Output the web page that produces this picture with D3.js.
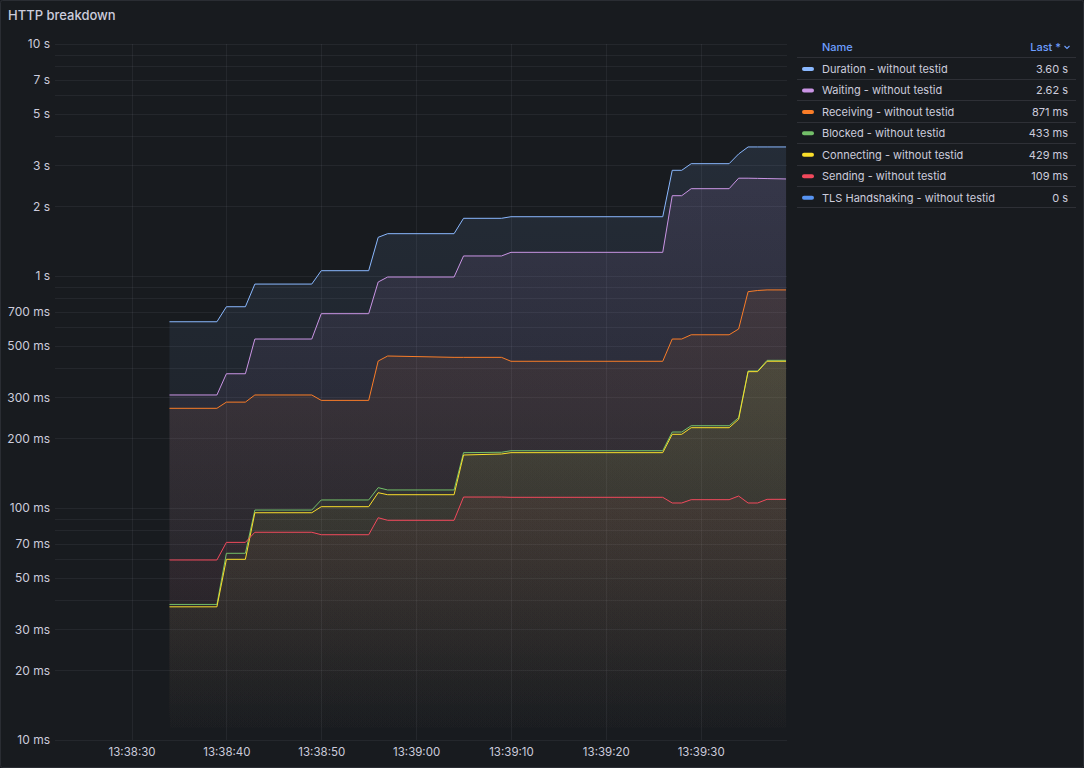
<!DOCTYPE html>
<html><head><meta charset="utf-8">
<script src="https://cdn.jsdelivr.net/npm/d3@7"></script>
<style>
html,body{margin:0;padding:0;background:#181b1f;}
svg{display:block;font-family:Inter,"Noto Sans",sans-serif;}
</style></head><body>
<svg id="c" width="1084" height="768"></svg>
<script>
// ---- data ----
const title = "HTTP breakdown";
// sample times, seconds after 13:38:30
const seconds = [4,9,10,12,13,19,20,25,26,27,34,35,39,40,56,57,58,59,63,64,65,66,67,69];
// values in milliseconds
const duration   = [635,635,737,737,923,923,1054,1054,1468,1522,1522,1773,1773,1801,1801,2855,2855,3049,3049,3357,3600,3600,3600,3600];
const waiting    = [307,307,379,379,535,535,688,688,942,990,990,1220,1220,1265,1265,2219,2219,2379,2379,2640,2640,2635,2630,2620];
const receiving  = [269,269,286,286,307,307,291,291,430,452,446,446,446,429,429,535,535,558,558,591,856,866,871,871];
const blocked    = [38.4,38.4,63.8,63.8,98.0,98.0,108.3,108.3,122.4,119.6,119.6,173.2,173.9,176.6,176.6,212.6,212.6,226.3,226.3,245.1,389.6,389.6,433,433];
const connecting = [37.5,37.5,60.1,60.1,95.4,95.4,101.3,101.3,116.4,114.1,114.1,169.2,170.9,173.2,173.2,207.8,207.8,221.9,221.9,241.2,387,387,429,429];
const sending    = [59.7,59.7,71.1,71.1,78.6,78.6,76.7,76.7,90.8,88.5,88.5,111.5,111.5,111.2,111.2,105.1,105.1,108.6,108.6,112.6,105.1,105.1,109,109];
const tlsHandshaking = [0,0,0,0,0,0,0,0,0,0,0,0,0,0,0,0,0,0,0,0,0,0,0,0];

const seriesNames = ["Duration - without testid","Waiting - without testid","Receiving - without testid",
  "Blocked - without testid","Connecting - without testid","Sending - without testid","TLS Handshaking - without testid"];
const seriesValues = [duration, waiting, receiving, blocked, connecting, sending, tlsHandshaking];
const seriesColors = ["#8ab8ff","#ca95e5","#fa7d28","#73bf69","#fade2a","#f2495c","#5794f2"];

const xTickSeconds = [0,10,20,30,40,50,60];
const yTickValues = [10,20,30,50,70,100,200,300,500,700,1000,2000,3000,5000,7000,10000];
const legendHeader = ["Name","Last *"];

// ---- layout ----
const W = 1084, H = 768;
const plot = {left:55, right:787, top:44, bottom:740};
const base = new Date(2024,0,1,13,38,30);
const toDate = s => new Date(base.getTime() + s*1000);

const svg = d3.select("#c");
svg.append("rect").attr("x",0.5).attr("y",0.5).attr("width",W-1).attr("height",H-1)
  .attr("rx",2).attr("fill","#181b1f").attr("stroke","#2a2d33");

svg.append("text").attr("x",8).attr("y",20).attr("font-size",13).attr("font-weight",500)
  .attr("fill","#ccccdc").text(title);

const x = d3.scaleTime().domain([toDate(-8.07), toDate(69.1)]).range([plot.left, plot.right]);
const y = d3.scaleLog().domain([10,10000]).range([plot.bottom, plot.top]);

const fmtMs = v => v >= 1000 ? (v/1000) + " s" : v + " ms";

// grid
const grid = svg.append("g").attr("stroke","rgba(204,204,220,0.07)").attr("stroke-width",1);
const minor = [];
for (let d=10; d<10000; d*=10) for (let k=1;k<10;k++) minor.push(d*k);
minor.push(10000);
grid.selectAll("line.h").data(minor).join("line").attr("class","h")
  .attr("x1",plot.left).attr("x2",plot.right)
  .attr("y1",d=>Math.round(y(d))+0.5).attr("y2",d=>Math.round(y(d))+0.5);
grid.selectAll("line.v").data(xTickSeconds).join("line").attr("class","v")
  .attr("y1",plot.top).attr("y2",plot.bottom)
  .attr("x1",d=>Math.round(x(toDate(d)))+0.5).attr("x2",d=>Math.round(x(toDate(d)))+0.5);

// axes
const yAxis = d3.axisLeft(y).tickValues(yTickValues).tickFormat(fmtMs).tickSize(0).tickPadding(5);
const gy = svg.append("g").attr("transform",`translate(${plot.left},0)`).call(yAxis);
gy.select(".domain").remove();
gy.selectAll("text").attr("fill","#ccccdc").attr("font-size",12).attr("font-family","Inter,'Noto Sans',sans-serif");

const xAxis = d3.axisBottom(x).tickValues(xTickSeconds.map(toDate)).tickFormat(d3.timeFormat("%H:%M:%S")).tickSize(0).tickPadding(8);
const gx = svg.append("g").attr("transform",`translate(0,${plot.bottom})`).call(xAxis);
gx.select(".domain").remove();
gx.selectAll("text").attr("fill","#ccccdc").attr("font-size",11.5).attr("font-family","Inter,'Noto Sans',sans-serif");

// series
const defs = svg.append("defs");
const fillOpacity = 0.13;
const chart = svg.append("g");
seriesValues.forEach((vals,i)=>{
  const pts = seconds.map((s,j)=>({t:toDate(s), v:vals[j]})).filter(p=>p.v>0);
  if (!pts.length) return;
  const gid = "g"+i;
  const lg = defs.append("linearGradient").attr("id",gid).attr("gradientUnits","userSpaceOnUse")
    .attr("x1",0).attr("x2",0).attr("y1",plot.top).attr("y2",plot.bottom);
  lg.append("stop").attr("offset",0).attr("stop-color",seriesColors[i]).attr("stop-opacity",fillOpacity);
  lg.append("stop").attr("offset",1).attr("stop-color",seriesColors[i]).attr("stop-opacity",0);
  const area = d3.area().x(d=>x(d.t)).y0(plot.bottom).y1(d=>y(d.v));
  chart.append("path").datum(pts).attr("d",area).attr("fill",`url(#${gid})`);
});
seriesValues.forEach((vals,i)=>{
  const pts = seconds.map((s,j)=>({t:toDate(s), v:vals[j]})).filter(p=>p.v>0);
  if (!pts.length) return;
  const line = d3.line().x(d=>x(d.t)).y(d=>y(d.v));
  chart.append("path").datum(pts).attr("d",line).attr("fill","none")
    .attr("stroke",seriesColors[i]).attr("stroke-width",1).attr("stroke-linejoin","round");
});

// legend
const lg = svg.append("g");
const lx0 = 797, lx1 = 1076, rowH = 21.45, headY = 47, row0 = 69;
lg.append("text").attr("x",822).attr("y",headY).attr("dy","0.35em").attr("font-size",11).attr("font-weight",500)
  .attr("fill","#6e9fff").text(legendHeader[0]);
lg.append("text").attr("x",1061).attr("y",headY).attr("dy","0.35em").attr("text-anchor","end").attr("font-size",11)
  .attr("font-weight",500).attr("fill","#6e9fff").text(legendHeader[1]);
lg.append("path").attr("d",`M1064.5,${headY-1} l2.5,2.5 l2.5,-2.5`).attr("fill","none").attr("stroke","#6e9fff").attr("stroke-width",1.1);
const lastFmt = v => v === 0 ? "0 s" : v >= 1000 ? (v/1000).toFixed(2)+" s" : Math.round(v)+" ms";
for (let i=0;i<=seriesNames.length;i++){
  const yy = Math.round(row0 - rowH/2 + i*rowH) + 0.5 - 1;
  lg.append("line").attr("x1",lx0).attr("x2",lx1).attr("y1",yy).attr("y2",yy).attr("stroke","rgba(204,204,220,0.12)");
}
seriesNames.forEach((n,i)=>{
  const cy = row0 + i*rowH;
  lg.append("rect").attr("x",802).attr("y",cy-2).attr("width",12).attr("height",4).attr("rx",2).attr("fill",seriesColors[i]);
  lg.append("text").attr("x",822).attr("y",cy).attr("dy","0.35em").attr("font-size",11).attr("fill","#ccccdc").text(n);
  const vals = seriesValues[i];
  lg.append("text").attr("x",1068).attr("y",cy).attr("dy","0.35em").attr("text-anchor","end").attr("font-size",11)
    .attr("fill","#ccccdc").text(lastFmt(vals[vals.length-1]));
});
</script>
</body></html>
